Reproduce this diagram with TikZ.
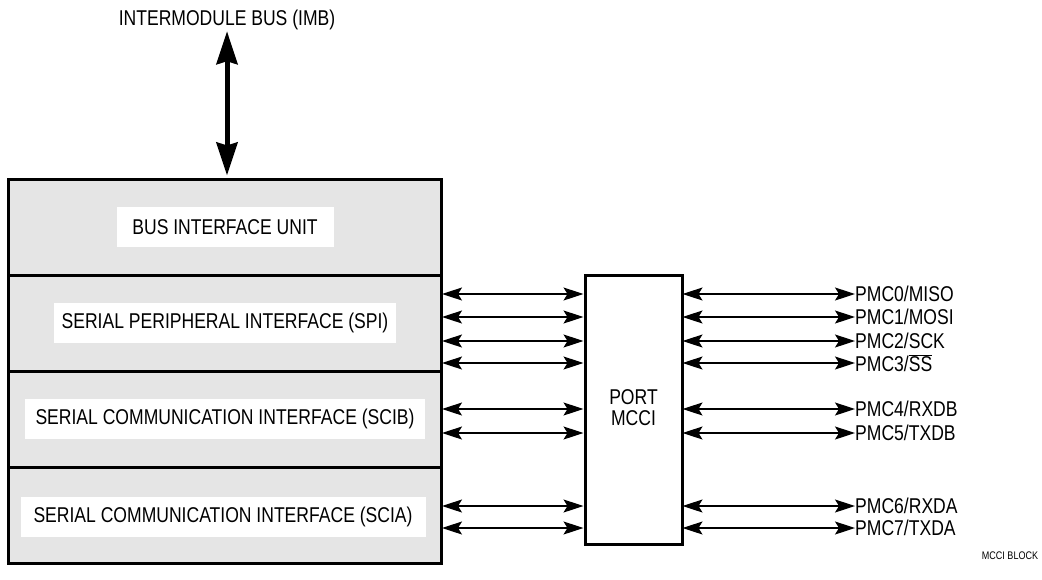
\documentclass[tikz,border=0pt]{standalone}
\usepackage{fontspec}
\setmainfont{Liberation Sans}[FakeStretch=0.82]
\usetikzlibrary{arrows.meta,calc}
\begin{document}
\begin{tikzpicture}[x=1pt,y=-1pt,
  txt/.style={font=\fontsize{21.4}{21}\selectfont, inner sep=0pt},
  section/.style={draw, line width=3pt, fill=gray!20, minimum width=433pt, minimum height=96pt, inner sep=0pt},
  whitelbl/.style={txt, fill=white, minimum height=40pt},
  portbox/.style={draw, line width=3pt, fill=white, minimum width=97pt, minimum height=269pt, inner sep=0pt},
  sig/.style={line width=1.3pt, {Stealth[length=20pt,width=13pt,inset=4pt]}-{Stealth[length=20pt,width=13pt,inset=4pt]}},
  bus/.style={line width=5pt, {Stealth[length=33pt,width=21pt,inset=3pt]}-{Stealth[length=33pt,width=21pt,inset=3pt]}},
  pin/.style={txt, anchor=west}
]
\useasboundingbox (0,0) rectangle (1042,579);
% stacked sections
\node[section] (biu) at (225,227) {};
\node[section] (spi) at (225,323) {};
\node[section] (scib) at (225,419) {};
\node[section] (scia) at (225,515) {};
\node[whitelbl, minimum width=217pt] (biul) at (biu.center) {BUS INTERFACE UNIT};
\node[whitelbl, minimum width=342pt] (spil) at (spi.center) {SERIAL PERIPHERAL INTERFACE (SPI)};
\node[whitelbl, minimum width=400pt] (scibl) at (scib.center) {SERIAL COMMUNICATION INTERFACE (SCIB)};
\node[whitelbl, minimum width=405pt] (scial) at ($(scia.center)+(-2,2)$) {SERIAL COMMUNICATION INTERFACE (SCIA)};
% IMB
\node[txt] (imb) at (227,20) {INTERMODULE BUS (IMB)};
\draw[bus, shorten <=1pt, shorten >=2pt] (imb.south) -- (biu.north -| imb.south);
% port
\node[portbox] (port) at (633.5,409.5) {};
\node[txt, align=center] (portl) at (633.5,408) {PORT\\MCCI};
% pins
\node[pin] (p0) at (855,294) {PMC0/MISO};
\node[pin] (p1) at (855,317) {PMC1/MOSI};
\node[pin] (p2) at (855,341) {PMC2/SCK};
\node[pin] (p3) at (855,363) {PMC3/\ensuremath{\overline{\hbox{SS}}}};
\node[pin] (p4) at (855,409) {PMC4/RXDB};
\node[pin] (p5) at (855,433) {PMC5/TXDB};
\node[pin] (p6) at (855,506) {PMC6/RXDA};
\node[pin] (p7) at (855,528) {PMC7/TXDA};
\foreach \p in {p0,p1,p2,p3,p4,p5,p6,p7}{
  \draw[sig, shorten <=-1pt] (spi.east |- \p.west) -- (port.west |- \p.west);
  \draw[sig, shorten <=-1pt] (port.east |- \p.west) -- (\p.west);
}
\node[font=\fontsize{11}{12}\selectfont, inner sep=0pt] (blk) at (1010,556) {MCCI BLOCK};
\end{tikzpicture}
\end{document}
